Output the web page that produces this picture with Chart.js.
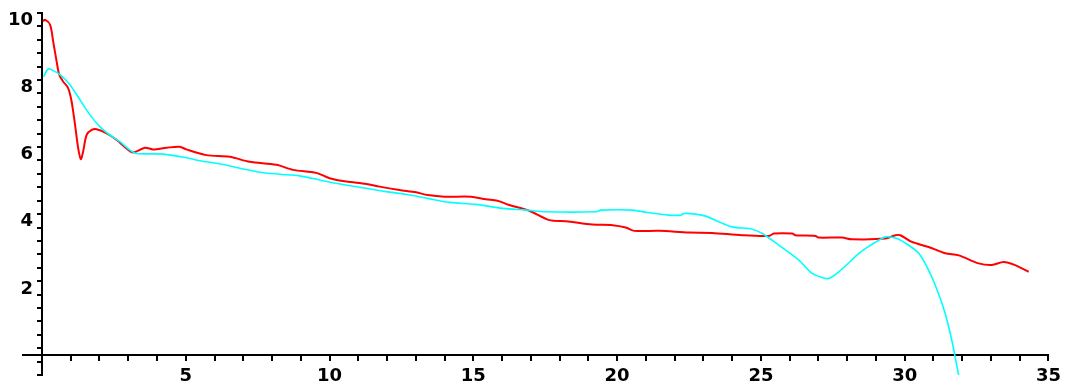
<!DOCTYPE html>
<html>
<head>
<meta charset="utf-8">
<script src="https://cdn.jsdelivr.net/npm/chart.js@4"></script>
<style>
  html, body { margin: 0; padding: 0; background: #fff; }
  #wrap { width: 1067px; height: 383px; }
</style>
</head>
<body>
<div id="wrap"><canvas id="plot"></canvas></div>
<script>
// red curve
let redX = [0.04, 0.1, 0.28, 0.39, 0.51, 0.6, 0.74, 0.91, 1.03, 1.15, 1.26, 1.35, 1.43, 1.55, 1.73, 1.9, 2.25, 2.6, 2.94, 3.17, 3.58, 3.86, 4.33, 4.79, 5.02, 5.72, 6.53, 7.22, 8.15, 8.73, 9.54, 10.0, 10.58, 11.28, 11.74, 12.43, 13.01, 13.41, 14.0, 14.92, 15.44, 15.84, 16.25, 16.94, 17.64, 18.22, 19.14, 19.84, 20.3, 20.6, 21.46, 22.5, 23.3, 24.34, 25.28, 25.45, 26.09, 26.2, 26.9, 27.0, 27.82, 28.16, 29.33, 29.68, 29.85, 30.25, 30.83, 31.41, 31.88, 32.57, 33.03, 33.44, 33.84, 34.31];
let redY = [9.95, 10.0, 9.85, 9.35, 8.75, 8.36, 8.15, 7.96, 7.56, 6.86, 6.16, 5.84, 6.06, 6.56, 6.71, 6.73, 6.61, 6.41, 6.16, 6.04, 6.18, 6.13, 6.18, 6.21, 6.13, 5.96, 5.91, 5.76, 5.67, 5.52, 5.43, 5.27, 5.17, 5.10, 5.02, 4.92, 4.85, 4.77, 4.72, 4.72, 4.64, 4.60, 4.47, 4.30, 4.02, 3.99, 3.89, 3.87, 3.80, 3.70, 3.70, 3.65, 3.64, 3.57, 3.55, 3.62, 3.62, 3.57, 3.55, 3.50, 3.50, 3.45, 3.47, 3.57, 3.57, 3.37, 3.22, 3.03, 2.97, 2.73, 2.68, 2.77, 2.68, 2.48];

// cyan curve
let cyanX = [0.05, 0.22, 0.39, 0.63, 0.97, 1.32, 1.67, 2.01, 2.36, 2.71, 3.06, 3.29, 4.21, 5.02, 5.49, 6.18, 6.88, 7.57, 8.26, 8.96, 9.65, 10.23, 11.04, 11.97, 12.66, 13.41, 14.17, 15.09, 16.02, 16.83, 17.52, 19.26, 19.43, 20.53, 21.11, 21.8, 22.21, 22.33, 22.73, 23.08, 23.54, 24.0, 24.7, 25.05, 25.63, 26.32, 26.78, 27.13, 27.36, 27.71, 28.4, 28.63, 29.1, 29.33, 29.73, 30.14, 30.49, 30.83, 31.13, 31.41, 31.64, 31.82, 31.9];
let cyanY = [8.3, 8.53, 8.48, 8.36, 8.06, 7.61, 7.16, 6.81, 6.56, 6.36, 6.11, 6.01, 5.99, 5.88, 5.79, 5.70, 5.57, 5.45, 5.39, 5.34, 5.22, 5.12, 5.0, 4.87, 4.79, 4.67, 4.55, 4.49, 4.37, 4.32, 4.27, 4.27, 4.32, 4.32, 4.24, 4.17, 4.17, 4.22, 4.20, 4.14, 3.97, 3.82, 3.75, 3.62, 3.27, 2.83, 2.43, 2.31, 2.28, 2.48, 3.02, 3.17, 3.42, 3.52, 3.47, 3.27, 3.03, 2.53, 1.93, 1.23, 0.43, -0.36, -0.7];

let xLabels = [5, 10, 15, 20, 25, 30, 35];
let yLabels = [2, 4, 6, 8, 10];

function pts(xs, ys) {
  return xs.map((x, i) => ({x: x, y: ys[i]}));
}

function hasLabel(list, v) {
  return list.some(l => Math.abs(l - v) < 1e-6);
}

const tickFont = { family: 'DejaVu Sans', size: 18, weight: 'bold' };

const whiteBg = {
  id: 'whiteBg',
  beforeDraw(chart) {
    const c = chart.ctx;
    c.save();
    c.fillStyle = '#fff';
    c.fillRect(0, 0, chart.width, chart.height);
    c.restore();
  }
};

// y labels: chart.js loses them when the axis sits at x=0, so put them in by hand
const yTickText = {
  id: 'yTickText',
  afterDraw(chart) {
    const c = chart.ctx;
    const ys = chart.scales.y;
    const x0 = chart.scales.x.getPixelForValue(0);
    c.save();
    c.fillStyle = '#000';
    c.font = 'bold 18px "DejaVu Sans"';
    c.textAlign = 'right';
    c.textBaseline = 'middle';
    yLabels.forEach(v => {
      c.fillText(String(v), x0 - 9, ys.getPixelForValue(v) + 1);
    });
    c.restore();
  }
};

new Chart(document.getElementById('plot'), {
  type: 'scatter',
  data: {
    datasets: [
      {
        data: pts(cyanX, cyanY),
        showLine: true,
        borderColor: '#00ffff',
        borderWidth: 1.6,
        pointRadius: 0,
        tension: 0.3
      },
      {
        data: pts(redX, redY),
        showLine: true,
        borderColor: '#ff0000',
        borderWidth: 2,
        pointRadius: 0,
        tension: 0.3
      }
    ]
  },
  options: {
    responsive: true,
    maintainAspectRatio: false,
    animation: false,
    layout: { padding: { left: 23, right: 17, top: 13, bottom: 8 } },
    plugins: { legend: { display: false }, tooltip: { enabled: false } },
    scales: {
      x: {
        type: 'linear',
        position: { y: 0 },
        min: -0.66,
        max: 35,
        border: { display: true, color: '#000', width: 2 },
        grid: { drawOnChartArea: false, drawTicks: true, tickLength: 5, color: '#000', lineWidth: 2 },
        ticks: {
          stepSize: 1,
          autoSkip: false,
          maxRotation: 0,
          includeBounds: false,
          maxTicksLimit: 100,
          padding: 6,
          color: '#000',
          font: tickFont,
          callback: v => hasLabel(xLabels, v) ? String(v) : ''
        }
      },
      y: {
        type: 'linear',
        position: { x: 0 },
        min: -0.6,
        max: 10.2,
        border: { display: true, color: '#000', width: 2 },
        grid: { drawOnChartArea: false, drawTicks: true, tickLength: 4, color: '#000', lineWidth: 2 },
        ticks: {
          stepSize: 0.4,
          autoSkip: false,
          includeBounds: false,
          maxTicksLimit: 100,
          display: false
        }
      }
    }
  },
  plugins: [whiteBg, yTickText]
});
</script>
</body>
</html>
